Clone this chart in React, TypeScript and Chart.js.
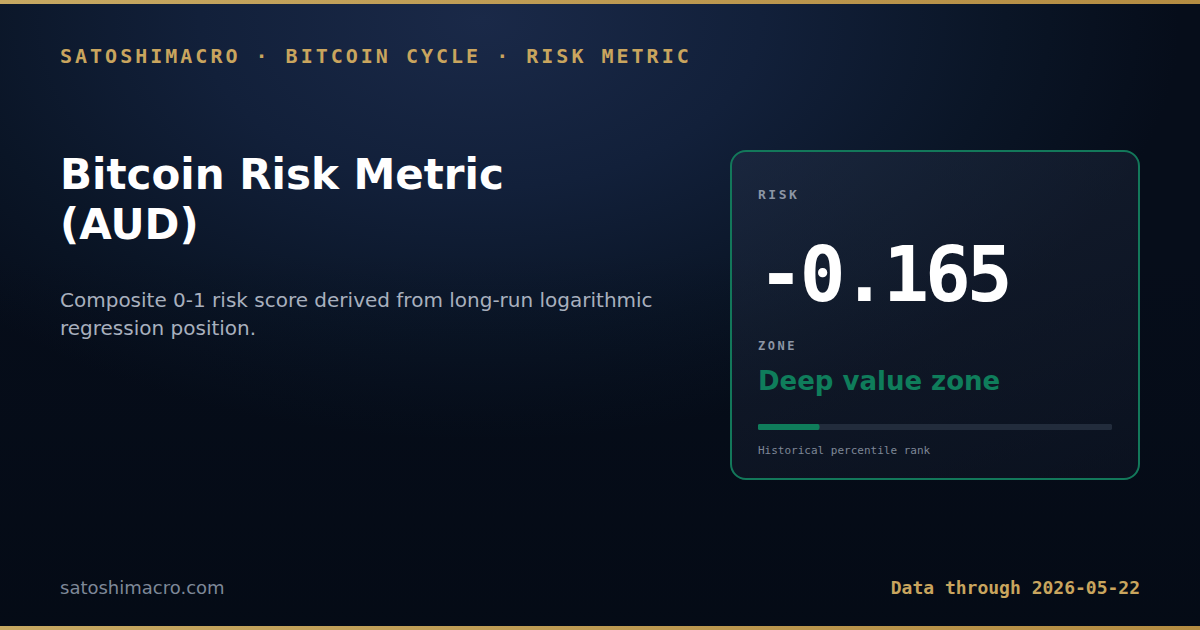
import { useEffect, useRef } from "react"
import { Chart, registerables } from "chart.js"

Chart.register(...registerables)

// Data
const rankLabels = ["Percentile rank"]
const rankValues = [17.3]
const trackValues = [100]
const riskValue = -0.165
const zoneLabel = "Deep value zone"
const dataThrough = "2026-05-22"

const mono = "'DejaVu Sans Mono', monospace"
const sans = "'DejaVu Sans', sans-serif"

function PercentileBar() {
  const chartRef = useRef<HTMLCanvasElement>(null)
  const chartInstance = useRef<Chart | null>(null)

  useEffect(() => {
    if (!chartRef.current) return
    if (chartInstance.current) chartInstance.current.destroy()
    const ctx = chartRef.current.getContext("2d")
    if (!ctx) return

    chartInstance.current = new Chart(ctx, {
      type: "bar",
      data: {
        labels: rankLabels,
        datasets: [
          {
            data: rankValues,
            backgroundColor: "#0f7d5b",
            borderRadius: 3,
            borderSkipped: false,
            barPercentage: 1,
            categoryPercentage: 1,
            grouped: false,
          },
          {
            data: trackValues,
            backgroundColor: "#222c3c",
            borderRadius: 3,
            borderSkipped: false,
            barPercentage: 1,
            categoryPercentage: 1,
            grouped: false,
          },
        ],
      },
      options: {
        indexAxis: "y",
        animation: false,
        responsive: true,
        maintainAspectRatio: false,
        layout: { padding: 0 },
        plugins: { legend: { display: false }, tooltip: { enabled: false } },
        scales: {
          x: { display: false, min: 0, max: 100 },
          y: { display: false },
        },
      },
    })

    return () => {
      if (chartInstance.current) {
        chartInstance.current.destroy()
        chartInstance.current = null
      }
    }
  }, [])

  return (
    <div style={{ position: "absolute", left: 758, top: 424, width: 354, height: 6 }}>
      <canvas ref={chartRef}></canvas>
    </div>
  )
}

export default function App() {
  return (
    <div
      style={{
        position: "fixed",
        left: 0,
        top: 0,
        width: 1200,
        height: 630,
        overflow: "hidden",
        background:
          "radial-gradient(ellipse 700px 420px at 480px 20px, #1a2948 0%, #12203a 40%, #0a1526 75%, #060d1a 100%), #060d1a",
        fontFamily: sans,
      }}
    >
      <div
        style={{
          position: "absolute",
          inset: 0,
          background: "linear-gradient(180deg, rgba(5,12,24,0) 40%, rgba(4,10,20,0.7) 100%)",
        }}
      />
      <div
        style={{
          position: "absolute",
          left: 0,
          top: 0,
          width: 1200,
          height: 4,
          background: "linear-gradient(90deg, #c6a862, #b48c42)",
        }}
      />
      <div
        style={{
          position: "absolute",
          left: 0,
          bottom: 0,
          width: 1200,
          height: 4,
          background: "linear-gradient(90deg, #c6a862, #b48c42)",
        }}
      />

      <div
        style={{
          position: "absolute",
          left: 60,
          top: 44,
          fontFamily: mono,
          fontWeight: "bold",
          fontSize: 20,
          letterSpacing: 3,
          color: "#c9a55e",
          whiteSpace: "nowrap",
          lineHeight: "24px",
        }}
      >
        SATOSHIMACRO · BITCOIN CYCLE · RISK METRIC
      </div>

      <div
        style={{
          position: "absolute",
          left: 60,
          top: 150,
          width: 600,
          fontWeight: "bold",
          fontSize: 42,
          lineHeight: "50px",
          color: "#ffffff",
        }}
      >
        Bitcoin Risk Metric
        <br />
        (AUD)
      </div>

      <div
        style={{
          position: "absolute",
          left: 60,
          top: 286,
          width: 620,
          fontSize: 20,
          lineHeight: "28px",
          color: "#a8b0be",
        }}
      >
        Composite 0-1 risk score derived from long-run logarithmic regression position.
      </div>

      <div
        style={{
          position: "absolute",
          left: 730,
          top: 150,
          width: 410,
          height: 330,
          boxSizing: "border-box",
          border: "2px solid #13785a",
          borderRadius: 16,
          background: "linear-gradient(160deg, rgba(40,52,75,0.4), rgba(20,28,45,0.35))",
        }}
      />

      <div
        style={{
          position: "absolute",
          left: 758,
          top: 186,
          fontFamily: mono,
          fontWeight: "bold",
          fontSize: 13,
          letterSpacing: 2.5,
          color: "#8c95a4",
          lineHeight: "18px",
        }}
      >
        RISK
      </div>

      <div
        style={{
          position: "absolute",
          left: 758,
          top: 230,
          fontFamily: mono,
          fontWeight: "bold",
          fontSize: 76,
          letterSpacing: -4,
          color: "#ffffff",
          lineHeight: "90px",
          whiteSpace: "nowrap",
        }}
      >
        {riskValue.toFixed(3)}
      </div>

      <div
        style={{
          position: "absolute",
          left: 758,
          top: 338,
          fontFamily: mono,
          fontWeight: "bold",
          fontSize: 12,
          letterSpacing: 2.5,
          color: "#8c95a4",
          lineHeight: "16px",
        }}
      >
        ZONE
      </div>

      <div
        style={{
          position: "absolute",
          left: 758,
          top: 364,
          fontWeight: "bold",
          fontSize: 26,
          color: "#0f7d5b",
          lineHeight: "34px",
          whiteSpace: "nowrap",
        }}
      >
        {zoneLabel}
      </div>

      <PercentileBar />

      <div
        style={{
          position: "absolute",
          left: 758,
          top: 443,
          fontFamily: mono,
          fontSize: 11,
          color: "#7e8796",
          lineHeight: "16px",
          whiteSpace: "nowrap",
        }}
      >
        Historical percentile rank
      </div>

      <div
        style={{
          position: "absolute",
          left: 60,
          top: 576,
          fontSize: 18,
          color: "#7e8898",
          lineHeight: "24px",
        }}
      >
        satoshimacro.com
      </div>

      <div
        style={{
          position: "absolute",
          right: 60,
          top: 576,
          fontFamily: mono,
          fontWeight: "bold",
          fontSize: 18,
          color: "#c9a55e",
          lineHeight: "24px",
          whiteSpace: "nowrap",
        }}
      >
        Data through {dataThrough}
      </div>
    </div>
  )
}
